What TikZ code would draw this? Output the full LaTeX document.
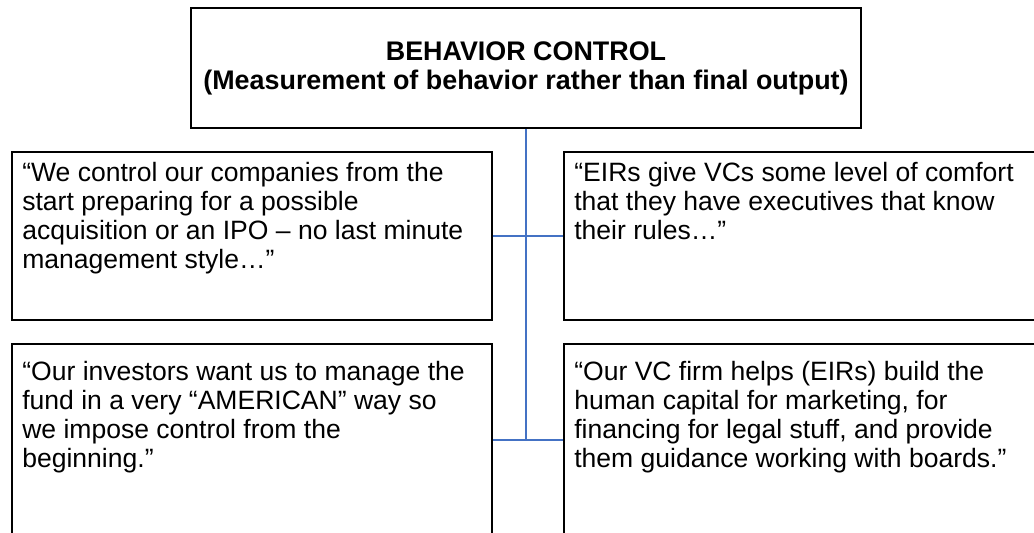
\documentclass[tikz,border=0pt]{standalone}
\usepackage{fontspec}
\setmainfont{Liberation Sans}
\usetikzlibrary{positioning}
\definecolor{linkblue}{RGB}{68,114,196}
\tikzset{
    header/.style={
    rectangle,draw=black,line width=1.2pt,minimum width=13.4cm,minimum height=2.4cm,
    align=center,font=\fontsize{15.3}{16.5}\selectfont\bfseries
    },
    quotebox/.style={
    rectangle,draw=black,line width=1.2pt,minimum width=9.6cm,minimum height=3.36cm
    },
    quote/.style={
    inner sep=0pt,align=left,font=\fontsize{15.1}{16.5}\selectfont
    },
    link/.style={
    draw=linkblue,line width=0.9pt
    },
}
\begin{document}
\begin{tikzpicture}[x=0.02cm,y=-0.02cm]
   \useasboundingbox (0,0) rectangle (1034,533);
   \clip (0,0) rectangle (1034,533);

   \node[header] (head) at (526,68) {BEHAVIOR CONTROL\\(Measurement of behavior rather than final output)};

   %upper row
   \node[quotebox] (q1) at (252,236) {};
   \node[quotebox] (q2) at (804,236) {};
   %lower row
   \node[quotebox,minimum height=4cm] (q3) at (252,444) {};
   \node[quotebox,minimum height=4cm] (q4) at (804,444) {};

   %quotes
   \node[quote,below right=0.21cm and 0.22cm of q1.north west] (t1)
      {“We control our companies from the\\start preparing for a possible\\acquisition or an IPO – no last minute\\management style…”};
   \node[quote,below right=0.21cm and 0.22cm of q2.north west] (t2)
      {“EIRs give VCs some level of comfort\\that they have executives that know\\their rules…”};
   \node[quote,below right=0.35cm and 0.22cm of q3.north west] (t3)
      {“Our investors want us to manage the\\fund in a very “AMERICAN” way so\\we impose control from the\\beginning.”};
   \node[quote,below right=0.35cm and 0.22cm of q4.north west] (t4)
      {“Our VC firm helps (EIRs) build the\\human capital for marketing, for\\financing for legal stuff, and provide\\them guidance working with boards.”};

   %links
   \coordinate (jlow) at (526,440);
   \draw[link] (head.south) -- (jlow);
   \draw[link] (q1.east) -- (q2.west);
   \draw[link] (jlow -| q3.east) -- (jlow -| q4.west);
\end{tikzpicture}
\end{document}
